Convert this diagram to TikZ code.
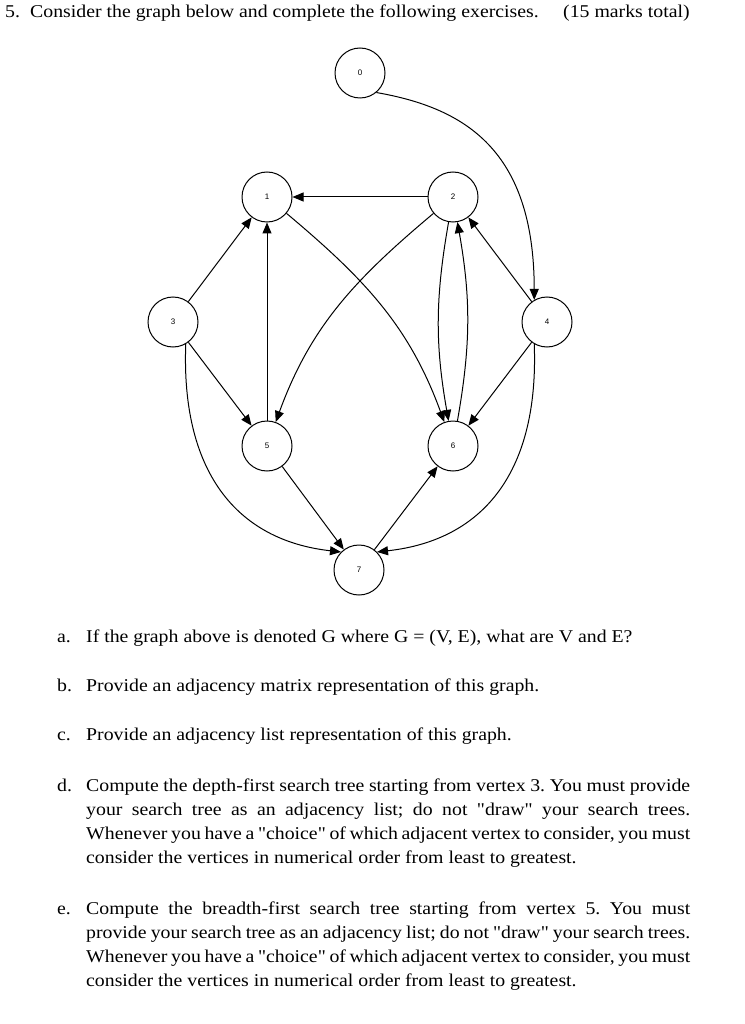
\documentclass[tikz,border=0pt]{standalone}
\usepackage{fontspec}
\setmainfont{Liberation Serif}[FakeStretch=1.1,Ligatures=TeXOff]
\newfontfamily\nodefont{Liberation Sans}
\usetikzlibrary{arrows.meta}
\frenchspacing
\begin{document}
\begin{tikzpicture}[x=1pt,y=-1pt,
  vtx/.style={circle,draw,line width=1pt,minimum size=50pt,inner sep=0pt,font=\nodefont\fontsize{8}{9}\selectfont},
  edge/.style={line width=1pt,-{Triangle[length=11pt,width=9pt]}},
  txt/.style={anchor=base west,inner sep=0pt,font=\fontsize{18}{20}\selectfont}]
\useasboundingbox[fill=white] (0,0) rectangle (744,1024);

% vertices
\node[vtx] (n0) at (360,73) {0};
\node[vtx] (n1) at (267,197) {1};
\node[vtx] (n2) at (453,197) {2};
\node[vtx] (n3) at (173,322) {3};
\node[vtx] (n4) at (547,322) {4};
\node[vtx] (n5) at (267,446) {5};
\node[vtx] (n6) at (453,446) {6};
\node[vtx] (n7) at (359,570) {7};

% edges
\draw[edge] (n0.-50) .. controls (465,108) and (534,150) .. (n4.120);
\draw[edge] (n2) -- (n1);
\draw[edge] (n3) -- (n1);
\draw[edge] (n5) -- (n1);
\draw[edge] (n1) to[out=-40,in=110] (n6);
\draw[edge] (n2) to[out=-140,in=70] (n5);
\draw[edge] (n4) -- (n2);
\draw[edge] (n2) to[bend right=10] (n6);
\draw[edge] (n6) to[bend right=10] (n2);
\draw[edge] (n4) -- (n6);
\draw[edge] (n3) -- (n5);
\draw[edge] (n3.-60) .. controls (181,470) and (235,540) .. (n7.135);
\draw[edge] (n4.-120) .. controls (539,470) and (485,540) .. (n7.45);
\draw[edge] (n5) -- (n7);
\draw[edge] (n7) -- (n6);

% text
\node[txt] (t5) at (5,18) {5.};
\node[txt] (t0) at (30,18) {Consider the graph below and complete the following exercises.};
\node[txt] (tm) at (563,18) {(15 marks total)};

\node[txt] (la) at (57,642) {a.};
\node[txt] (ta) at (86,642) {If the graph above is denoted G where G = (V, E), what are V and E?};
\node[txt] (lb) at (57,691) {b.};
\node[txt] (tb) at (86,691) {Provide an adjacency matrix representation of this graph.};
\node[txt] (lc) at (57,740) {c.};
\node[txt] (tc) at (86,740) {Provide an adjacency list representation of this graph.};

\node[txt] (ld) at (57,791) {d.};
\node[txt] (td1) at (86,791) {\makebox[604pt][s]{Compute the depth-first search tree starting from vertex 3. You must provide}};
\node[txt] (td2) at (86,815) {\makebox[604pt][s]{your search tree as an adjacency list; do not "draw" your search trees.}};
\node[txt] (td3) at (86,839) {\makebox[604pt][s]{Whenever you have a "choice" of which adjacent vertex to consider, you must}};
\node[txt] (td4) at (86,863) {consider the vertices in numerical order from least to greatest.};

\node[txt] (le) at (57,914) {e.};
\node[txt] (te1) at (86,914) {\makebox[604pt][s]{Compute the breadth-first search tree starting from vertex 5. You must}};
\node[txt] (te2) at (86,938) {\makebox[604pt][s]{provide your search tree as an adjacency list; do not "draw" your search trees.}};
\node[txt] (te3) at (86,962) {\makebox[604pt][s]{Whenever you have a "choice" of which adjacent vertex to consider, you must}};
\node[txt] (te4) at (86,986) {consider the vertices in numerical order from least to greatest.};
\end{tikzpicture}
\end{document}
